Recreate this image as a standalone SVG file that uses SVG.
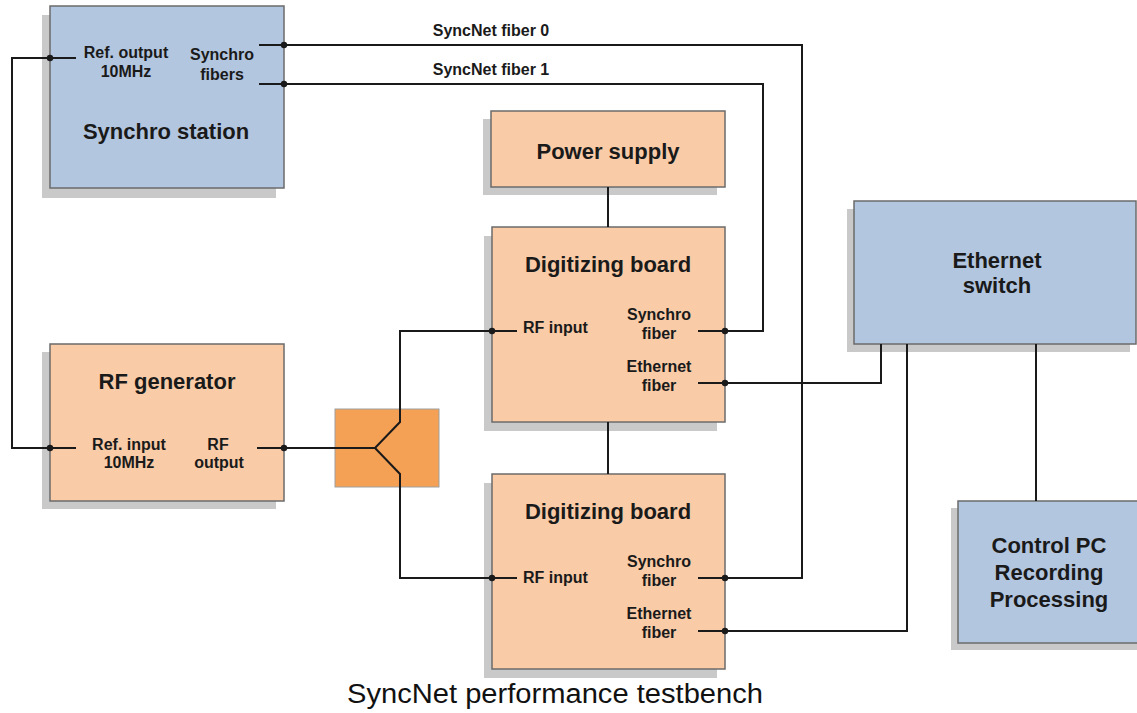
<svg xmlns="http://www.w3.org/2000/svg" width="1137" height="713" viewBox="0 0 1137 713">
<style>
.shadow{fill:#c9c9c9}
.blue{fill:#b3c6e0;stroke:#6b6b6b;stroke-width:1.5}
.peach{fill:#f9cba7;stroke:#6b6b6b;stroke-width:1.5}
.split{fill:#f4a055;stroke:#a0a0a0;stroke-width:1}
.wire{fill:none;stroke:#1a1a1a;stroke-width:2}
.dot{fill:#1a1a1a}
text{font-family:"Liberation Sans",Arial,sans-serif;font-weight:bold;fill:#1a1a1a;text-anchor:middle}
.s{font-size:16px}
.t{font-size:22px}
.cap{font-size:27px;font-weight:normal;fill:#111}
</style>
<rect width="1137" height="713" fill="#fff"/>

<g id="synchro-station">
<rect class="shadow" x="42" y="15" width="234" height="183"/>
<rect class="blue" x="50" y="6" width="234" height="182"/>
<text class="s" x="126" y="58">Ref. output</text>
<text class="s" x="126" y="77">10MHz</text>
<text class="s" x="222" y="60">Synchro</text>
<text class="s" x="222" y="80">fibers</text>
<text class="t" x="166" y="139">Synchro station</text>
</g>

<g id="rf-generator">
<rect class="shadow" x="42" y="352" width="234" height="157"/>
<rect class="peach" x="50" y="344" width="234" height="157"/>
<text class="t" x="167" y="389">RF generator</text>
<text class="s" x="129" y="450">Ref. input</text>
<text class="s" x="129" y="468">10MHz</text>
<text class="s" x="218" y="450">RF</text>
<text class="s" x="219" y="468">output</text>
</g>

<g id="splitter">
<rect class="split" x="335" y="409" width="104" height="78"/>
</g>

<g id="power-supply">
<rect class="shadow" x="483" y="119" width="234" height="76"/>
<rect class="peach" x="491" y="111" width="234" height="76"/>
<text class="t" x="608" y="159">Power supply</text>
</g>

<g id="digitizing-board-1">
<rect class="shadow" x="484" y="236" width="233" height="195"/>
<rect class="peach" x="492" y="227" width="233" height="195"/>
<text class="t" x="608" y="272">Digitizing board</text>
<text class="s" x="523" y="333" style="text-anchor:start">RF input</text>
<text class="s" x="659" y="320">Synchro</text>
<text class="s" x="659" y="339">fiber</text>
<text class="s" x="659" y="372">Ethernet</text>
<text class="s" x="659" y="391">fiber</text>
</g>

<g id="digitizing-board-2">
<rect class="shadow" x="484" y="483" width="233" height="195"/>
<rect class="peach" x="492" y="474" width="233" height="195"/>
<text class="t" x="608" y="519">Digitizing board</text>
<text class="s" x="523" y="583" style="text-anchor:start">RF input</text>
<text class="s" x="659" y="567">Synchro</text>
<text class="s" x="659" y="586">fiber</text>
<text class="s" x="659" y="619">Ethernet</text>
<text class="s" x="659" y="638">fiber</text>
</g>

<g id="ethernet-switch">
<rect class="shadow" x="847" y="209" width="283" height="143"/>
<rect class="blue" x="854" y="201" width="282" height="143"/>
<text class="t" x="997" y="268">Ethernet</text>
<text class="t" x="997" y="293">switch</text>
</g>

<g id="control-pc">
<rect class="shadow" x="951" y="508" width="186" height="142"/>
<rect class="blue" x="958" y="501" width="180" height="142"/>
<text class="t" x="1049" y="553">Control PC</text>
<text class="t" x="1049" y="580">Recording</text>
<text class="t" x="1049" y="607">Processing</text>
</g>

<g id="connectors">
<polyline class="wire" points="76,58 12,58 12,448 76,448"/>
<polyline class="wire" points="259,45 802,45 802,578 698,578"/>
<polyline class="wire" points="259,84 763,84 763,331 698,331"/>
<line class="wire" x1="608" y1="187" x2="608" y2="227"/>
<line class="wire" x1="608" y1="422" x2="608" y2="474"/>
<polyline class="wire" points="257,448 375,448 400,422 400,331 517,331"/>
<polyline class="wire" points="375,448 400,474 400,578 517,578"/>
<polyline class="wire" points="698,383 881,383 881,344"/>
<polyline class="wire" points="698,631 907,631 907,344"/>
<line class="wire" x1="1036" y1="344" x2="1036" y2="501"/>
<circle class="dot" cx="50" cy="58" r="3.2"/>
<circle class="dot" cx="50" cy="448" r="3.2"/>
<circle class="dot" cx="284" cy="45" r="3.2"/>
<circle class="dot" cx="284" cy="84" r="3.2"/>
<circle class="dot" cx="284" cy="448" r="3.2"/>
<circle class="dot" cx="492" cy="331" r="3.2"/>
<circle class="dot" cx="492" cy="578" r="3.2"/>
<circle class="dot" cx="725" cy="331" r="3.2"/>
<circle class="dot" cx="725" cy="383" r="3.2"/>
<circle class="dot" cx="725" cy="578" r="3.2"/>
<circle class="dot" cx="725" cy="631" r="3.2"/>
<text class="s" x="491" y="36">SyncNet fiber 0</text>
<text class="s" x="491" y="75">SyncNet fiber 1</text>
</g>

<text class="cap" x="555" y="703" textLength="416" lengthAdjust="spacingAndGlyphs">SyncNet performance testbench</text>
</svg>
